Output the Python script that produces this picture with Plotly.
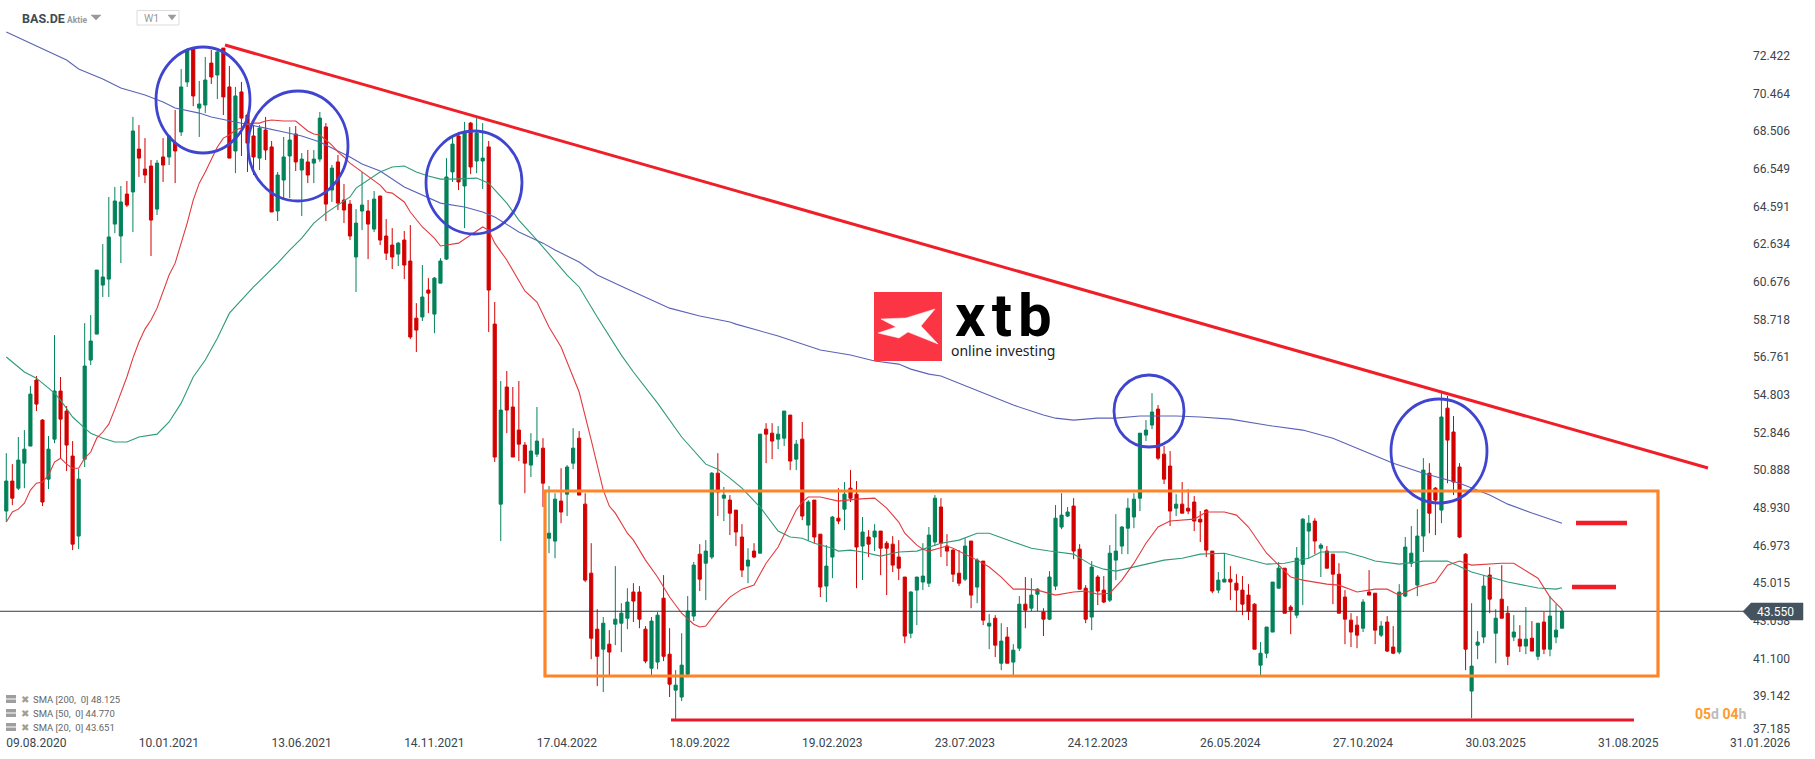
import pandas as pd
import plotly.graph_objects as go

FIRST_WEEK = "2020-08-09"
direction = "".join([
    "GRGGGRRGGR", "RRGGGGGGGG", "RGRRRGRGRG", "GRGGRGRRGR", "RRGRRGGGRG",
    "RGGRGRRRGG", "RGRRRGRRRG", "RGGGGRGRGG", "RRGRRRRGGR", "GGRGGRRRRG",
    "RGGGRRRGGR", "RGGGGRGGRG", "RRRGRGRRGG", "RGRGRRGGRG", "RRGRGRRRRR",
    "GGGGGRRRRG", "RGRGRGRGGR", "GGRGGGGRRR", "GRRGGGGGGG", "GRRRGRRRRR",
    "RGGRRRRRGG", "GGRRGGGRGR", "RRRRRGRRGR", "RGGGGGRRGR", "RRRGGGRGRR",
    "GRGRGRGGG",
])
high = [
    51.77,51.20,52.61,52.97,55.26,55.78,53.54,52.66,57.91,55.73,
    54.22,52.40,50.94,58.53,58.95,61.29,62.64,65.09,65.61,65.66,
    65.92,69.25,68.83,68.15,67.01,67.01,68.15,68.26,69.61,71.74,
    72.83,72.78,71.12,72.37,72.73,72.73,72.83,71.90,70.81,71.07,
    69.35,68.83,68.83,69.25,68.00,66.39,68.21,68.73,68.78,67.37,
    67.53,67.53,69.51,68.93,66.75,67.27,65.76,64.93,64.46,66.39,
    64.93,65.40,65.14,63.94,63.47,62.75,63.32,63.63,59.57,61.55,
    60.87,60.93,61.91,67.11,68.21,68.47,68.99,68.99,69.19,68.93,
    68.00,59.63,55.52,56.04,55.21,55.52,52.35,52.81,54.17,52.55,
    50.06,49.69,50.99,51.15,53.07,52.92,49.69,47.09,43.66,43.25,
    42.57,45.90,43.97,44.75,45.01,44.86,42.78,43.25,43.51,45.43,
    42.67,40.49,42.41,44.34,46.11,47.04,47.25,50.79,51.77,50.01,
    49.59,48.81,48.08,46.83,47.09,52.76,53.33,53.33,53.18,53.96,
    53.75,52.45,53.39,49.33,49.33,47.56,46.99,48.50,49.95,50.27,
    50.89,50.32,48.45,47.77,48.08,47.72,47.20,47.46,47.25,45.33,
    44.60,45.33,47.09,47.93,49.59,49.43,47.56,46.78,46.73,47.35,
    47.20,46.31,46.16,43.40,43.35,42.93,42.73,41.84,44.34,45.33,
    45.27,44.75,43.71,45.64,49.07,49.69,48.97,49.43,47.04,44.91,
    46.16,45.43,45.38,46.99,48.60,47.98,49.43,49.69,52.81,53.49,
    54.89,54.27,52.14,51.88,49.64,50.27,49.90,49.54,48.76,48.86,
    46.68,45.59,46.57,45.90,45.48,45.38,44.96,43.97,41.95,42.73,
    45.07,46.11,45.79,43.87,46.89,48.39,48.55,48.39,47.09,46.94,
    46.52,46.05,44.65,43.45,43.30,44.18,45.69,44.49,43.04,43.30,
    42.78,44.96,47.41,47.98,48.86,51.51,51.25,50.01,54.89,54.74,
    53.70,51.25,46.57,43.97,42.52,45.43,45.85,43.66,45.95,43.82,
    43.35,42.83,43.77,43.04,42.93,43.51,44.34,43.92,43.66,
]
body_top = [
    50.32,50.32,51.41,51.98,54.84,55.57,53.49,51.98,55.00,55.00,
    53.96,51.62,50.42,56.30,57.60,61.29,60.93,63.01,64.88,64.83,
    65.24,68.52,67.58,66.54,66.70,66.85,67.17,68.26,67.89,70.81,
    72.68,72.78,69.92,71.17,72.05,72.63,72.83,70.81,70.34,70.55,
    69.35,68.26,68.67,68.57,67.69,66.23,67.17,68.05,68.36,67.06,
    66.91,67.06,69.19,68.73,66.59,66.91,64.93,64.72,63.73,64.67,
    64.36,64.98,65.14,63.06,62.59,62.69,62.85,61.76,58.79,59.89,
    60.25,60.87,61.76,66.13,67.84,68.26,68.41,68.93,68.41,67.11,
    67.69,58.48,54.01,55.21,54.17,52.97,52.19,51.88,52.40,52.03,
    47.61,49.38,49.28,51.05,52.03,52.55,49.12,45.53,42.62,42.93,
    41.84,43.14,43.45,44.03,44.55,44.55,42.62,43.04,43.35,44.23,
    41.32,39.71,40.75,43.56,45.95,46.52,46.68,50.73,50.73,49.59,
    49.33,48.81,47.41,46.21,46.68,52.76,53.02,52.81,52.76,53.96,
    53.75,52.24,52.50,49.23,49.33,47.56,45.90,48.45,48.39,49.64,
    49.95,49.64,47.67,47.41,47.72,47.72,47.09,47.04,46.37,45.33,
    44.55,45.33,45.38,47.51,49.43,48.97,46.94,46.73,45.53,46.94,
    47.20,46.21,46.16,42.93,43.19,42.00,42.21,41.53,43.92,43.92,
    44.39,44.70,43.51,45.33,48.39,48.55,48.71,49.02,46.78,44.75,
    45.85,45.33,44.65,46.57,46.68,47.93,48.91,49.38,52.81,52.97,
    53.91,54.06,51.72,51.10,49.12,49.12,48.91,49.23,48.34,48.81,
    46.68,45.17,45.22,45.22,45.01,44.65,44.39,43.92,41.37,42.73,
    45.07,45.79,45.79,43.77,46.31,48.34,48.13,48.24,46.99,46.68,
    46.52,45.48,44.29,43.09,42.83,44.03,44.55,44.49,42.78,42.99,
    41.69,44.55,46.89,46.57,47.46,50.89,50.73,49.95,53.65,54.11,
    52.87,51.05,46.52,40.70,41.95,44.86,45.43,43.19,44.18,43.45,
    42.47,42.10,42.10,42.15,42.93,42.99,43.30,42.57,43.55,
]
body_bottom = [
    48.76,49.43,49.95,51.25,52.14,54.32,49.23,50.42,52.50,53.54,
    52.19,47.04,47.46,51.46,56.61,57.96,60.51,60.82,63.68,63.06,
    64.67,65.35,67.11,66.23,63.89,64.46,66.75,67.17,67.48,68.47,
    71.07,70.34,69.71,69.87,71.33,71.43,70.29,67.11,67.48,69.19,
    67.89,67.17,67.11,67.53,64.31,64.36,65.97,67.22,66.91,66.49,
    66.23,66.85,67.06,64.72,65.45,64.77,64.41,63.06,61.97,64.36,
    63.68,63.42,62.85,62.17,61.97,62.12,61.55,57.81,58.17,58.85,
    60.09,59.00,60.61,61.86,66.39,65.87,65.66,66.65,66.96,66.96,
    60.25,51.57,49.12,54.01,51.57,52.24,51.25,51.15,51.72,50.21,
    47.35,47.20,48.71,49.64,51.25,49.59,45.17,42.15,41.21,41.58,
    41.43,42.88,42.93,43.19,44.08,43.14,40.96,40.59,40.91,41.21,
    39.76,39.45,39.09,40.28,43.30,45.22,46.05,46.37,49.75,49.43,
    48.65,47.67,45.69,45.90,46.37,46.57,52.76,52.40,52.50,52.55,
    51.36,51.46,48.50,48.03,47.41,44.81,44.86,46.37,48.24,48.86,
    49.43,46.89,46.94,47.04,47.41,46.83,46.83,45.95,45.79,42.26,
    42.41,44.65,45.07,45.01,47.15,47.09,46.68,45.48,45.01,45.22,
    44.39,44.81,43.09,42.78,41.79,40.85,40.85,40.91,41.63,43.61,
    43.71,44.44,43.14,43.14,44.86,47.93,48.50,46.68,44.70,43.14,
    43.25,44.60,44.03,44.13,46.21,46.94,47.87,48.45,49.43,52.71,
    53.23,51.51,50.42,48.76,48.91,48.65,48.76,48.24,48.19,46.73,
    44.60,44.65,45.07,45.07,44.65,43.92,43.56,41.58,40.75,41.37,
    42.47,44.75,43.45,43.61,43.35,45.99,47.72,47.20,46.83,45.79,
    45.48,43.45,43.14,42.47,42.31,42.67,44.39,42.57,42.31,41.48,
    41.37,41.43,44.34,46.05,44.91,47.46,48.65,49.33,48.81,52.45,
    50.27,47.41,41.58,39.40,41.79,42.21,44.18,42.41,43.19,41.21,
    42.21,41.74,41.74,41.48,41.21,41.58,41.58,42.21,42.67,
]
low = [
    48.19,49.07,49.85,49.95,52.14,53.96,49.02,49.90,52.29,51.51,
    50.84,46.73,46.78,51.05,56.35,57.96,59.89,59.89,63.21,61.65,
    64.57,63.27,66.13,65.81,62.02,64.15,65.87,66.75,65.81,68.26,
    70.81,69.81,68.21,69.45,70.96,70.18,69.35,67.11,66.33,67.22,
    66.39,66.23,66.49,67.01,64.31,63.84,64.98,65.03,66.44,64.10,
    65.81,65.81,66.91,63.84,64.83,64.41,63.73,62.85,60.15,63.37,
    61.86,63.27,62.59,61.81,61.34,61.50,60.82,57.70,57.03,58.64,
    59.05,58.01,60.61,61.81,65.87,65.45,63.47,66.28,66.33,65.50,
    58.07,51.31,47.20,52.81,51.57,51.36,49.69,50.53,51.57,48.97,
    46.57,46.31,48.13,48.50,50.94,49.59,45.07,41.06,39.66,39.35,
    40.18,41.79,41.43,42.62,42.99,42.67,40.85,40.23,40.54,40.96,
    39.09,37.94,38.88,40.23,43.04,44.60,44.13,46.26,48.50,48.24,
    47.51,46.94,45.33,45.01,46.31,46.57,51.25,51.46,51.98,52.14,
    50.89,50.89,48.29,47.20,47.09,44.29,44.03,45.27,48.08,47.77,
    49.23,44.75,45.17,46.37,46.68,45.43,44.39,45.59,45.17,41.89,
    42.15,42.83,44.65,44.81,46.94,46.37,45.90,45.07,44.86,45.12,
    43.71,43.97,42.83,41.58,41.17,40.49,40.85,40.23,41.48,42.67,
    43.56,43.56,42.26,43.09,44.65,47.82,48.45,46.26,44.70,42.93,
    42.57,43.87,43.97,44.03,45.17,46.52,46.52,47.87,48.76,52.40,
    53.02,51.41,50.16,47.98,48.50,48.65,48.60,47.72,47.15,46.37,
    44.49,44.49,45.07,44.13,43.56,43.35,43.09,41.58,40.23,41.11,
    42.47,44.75,43.45,42.36,43.19,43.87,46.31,46.52,45.33,45.79,
    43.92,43.45,41.84,41.69,41.63,42.47,44.39,41.84,42.21,41.43,
    41.32,41.32,44.29,45.85,44.34,46.63,47.61,47.51,48.13,50.21,
    49.59,47.35,40.49,37.99,41.06,41.89,43.45,40.85,43.19,40.75,
    42.00,41.43,41.32,41.48,41.01,41.32,41.21,41.89,42.67,
]
sma20_week = [0,1,2,3,4,5,6,7,8,9,10,11,12,13,14,15,16,17,18,19,20,21,22,23,24,25,27,28,29,30,31,32,33,34,35,36,37,38,39,40,41,42,43,44,46,48,49,50,51,52,53,54,55,56,57,59,61,62,63,64,66,67,69,71,72,75,77,78,79,80,81,83,86,88,90,92,95,97,99,100,101,103,104,106,108,110,112,114,115,116,118,120,122,124,126,128,130,131,132,133,135,137,138,141,144,146,148,149,151,152,153,156,157,161,163,165,167,169,171,174,177,179,181,183,185,187,189,191,193,197,199,202,204,206,209,211,213,215,219,221,224,227,229,231,234,237,239,241,243,248,250,254,256,258]
sma20 = [48.19,48.71,48.86,49.17,49.85,50.21,50.27,50.63,51.31,51.51,51.20,50.99,50.99,51.51,51.83,52.55,52.87,53.28,54.06,54.89,55.73,56.71,57.55,58.22,58.69,59.31,61.03,61.65,62.69,63.73,64.93,65.81,66.39,67.01,67.69,68.15,68.31,68.57,68.67,68.88,68.93,68.93,69.04,69.09,69.04,69.04,68.78,68.52,68.36,68.31,68.05,67.79,67.43,67.17,66.85,66.39,65.97,65.71,65.35,65.29,64.83,64.31,63.53,62.95,62.54,62.69,63.11,63.32,63.53,63.37,62.69,61.81,60.20,59.63,58.33,57.29,54.95,52.45,49.85,49.02,48.65,47.61,47.25,46.21,45.33,44.29,43.45,42.88,42.73,42.78,43.61,44.29,44.70,44.91,46.05,46.89,48.19,48.81,49.23,49.49,49.49,49.33,49.28,49.38,49.43,48.91,48.19,47.61,46.99,46.78,46.68,46.94,46.83,46.21,45.85,45.33,44.70,44.70,44.65,44.39,44.55,44.60,44.44,44.49,45.17,46.05,47.09,47.93,48.24,48.34,48.71,48.71,48.55,47.93,46.57,45.95,45.33,45.17,44.96,44.91,44.55,44.70,44.70,44.39,44.81,45.07,45.95,46.16,45.95,46.05,46.05,45.27,44.29,43.65]
sma50_week = [0,3,5,8,9,11,13,14,16,18,20,22,25,27,29,31,33,35,37,39,41,45,47,49,51,53,55,57,58,60,62,64,66,68,70,72,74,78,80,83,85,88,93,95,98,102,104,108,112,116,118,120,122,125,128,130,132,134,137,138,140,142,145,148,151,155,158,161,163,167,170,173,177,180,182,184,187,192,195,198,202,205,209,212,216,218,222,225,227,231,235,239,243,249,254,257,258]
sma50 = [56.77,55.99,55.67,54.89,54.53,53.65,53.07,52.81,52.55,52.35,52.35,52.61,52.76,53.39,54.37,55.73,56.61,57.75,59.05,59.73,60.41,61.65,62.33,62.95,63.73,64.25,64.67,65.09,65.55,65.97,66.39,66.65,66.70,66.39,66.18,66.02,66.02,66.07,65.81,64.77,63.89,62.85,61.03,60.41,58.85,56.87,55.99,54.37,52.61,51.20,50.94,50.47,49.95,48.97,47.72,47.41,47.35,47.09,46.83,46.68,46.73,46.63,46.42,46.63,46.68,47.09,47.25,47.61,47.61,47.15,46.83,46.68,46.52,45.95,45.74,45.64,45.85,46.21,46.31,46.52,46.57,46.31,46.00,46.05,46.31,46.63,46.63,46.37,46.16,46.00,46.16,46.16,45.59,45.07,44.76,44.70,44.77]
sma200_week = [0,4,10,12,16,19,23,26,28,32,34,38,41,43,46,49,52,54,57,59,62,66,69,72,76,79,81,85,89,91,95,98,103,106,110,115,117,120,121,125,128,135,140,144,148,150,153,155,158,161,167,172,174,177,181,184,188,194,198,203,210,215,220,226,230,235,241,246,249,253,258]
sma200 = [73.67,73.09,72.21,71.74,71.22,70.75,70.39,70.03,69.71,69.45,69.25,68.99,68.78,68.67,68.47,68.26,67.95,67.63,67.17,66.80,66.44,65.61,65.19,64.77,64.57,64.31,64.05,63.27,62.69,62.33,61.71,61.03,60.30,59.89,59.31,58.90,58.79,58.59,58.48,58.12,57.86,57.13,56.87,56.56,56.40,56.14,55.88,55.78,55.41,55.00,54.27,53.75,53.59,53.49,53.59,53.59,53.70,53.70,53.65,53.54,53.18,52.97,52.55,51.77,51.25,50.73,50.21,49.59,49.12,48.66,48.13]
x_tick_dates = ["2020-08-09","2021-01-10","2021-06-13","2021-11-14","2022-04-17","2022-09-18","2023-02-19","2023-07-23","2023-12-24","2024-05-26","2024-10-27","2025-03-30","2025-08-31","2026-01-31"]
x_tick_labels = ["09.08.2020","10.01.2021","13.06.2021","14.11.2021","17.04.2022","18.09.2022","19.02.2023","23.07.2023","24.12.2023","26.05.2024","27.10.2024","30.03.2025","31.08.2025","31.01.2026"]
y_tick_labels = ["72.422","70.464","68.506","66.549","64.591","62.634","60.676","58.718","56.761","54.803","52.846","50.888","48.930","46.973","45.015","43.058","41.100","39.142","37.185"]
y_tick_values = [72.422,70.464,68.506,66.549,64.591,62.634,60.676,58.718,56.761,54.803,52.846,50.888,48.930,46.973,45.015,43.058,41.100,39.142,37.44]
last_price = 43.55
legend_rows = ["SMA [200,  0] 48.125", "SMA [50,  0] 44.770", "SMA [20,  0] 43.651"]

UP, DOWN = "#03825a", "#d30000"
W, H, PW, PH = 1815, 759, 1752, 734
t0 = pd.Timestamp(FIRST_WEEK)
dates = pd.date_range(t0, periods=len(high), freq="7D")
opens = [b if d == "G" else t for d, t, b in zip(direction, body_top, body_bottom)]
closes = [t if d == "G" else b for d, t, b in zip(direction, body_top, body_bottom)]
week = lambda idx: [t0 + pd.Timedelta(days=7 * i) for i in idx]

fig = go.Figure()
fig.add_trace(go.Candlestick(
    x=dates, open=opens, high=high, low=low, close=closes, showlegend=False, hoverinfo="skip",
    increasing=dict(line=dict(color=UP, width=1), fillcolor=UP),
    decreasing=dict(line=dict(color=DOWN, width=1), fillcolor=DOWN), whiskerwidth=0))
for idx, vals, col, nm in [(sma200_week, sma200, "#5a63b8", "SMA 200"), (sma50_week, sma50, "#2f9a78", "SMA 50"), (sma20_week, sma20, "#e23b3f", "SMA 20")]:
    fig.add_trace(go.Scatter(x=week(idx), y=vals, mode="lines", name=nm, showlegend=False, hoverinfo="skip", line=dict(color=col, width=1.1)))

px_ = lambda x: x / PW
py_ = lambda y: 1 - y / PH
def seg(x0, y0, x1, y1, color, width):
    return dict(type="line", xref="paper", yref="paper", x0=px_(x0), y0=py_(y0), x1=px_(x1), y1=py_(y1), line=dict(color=color, width=width))
def poly(pts, fill, line=None):
    path = "M " + " L ".join(f"{px_(a):.5f},{py_(b):.5f}" for a, b in pts) + " Z"
    return dict(type="path", xref="paper", yref="paper", path=path, fillcolor=fill, line=dict(color=line or fill, width=0.5))
def circ(x0, x1, y0, y1):
    return dict(type="circle", xref="paper", yref="paper", x0=px_(x0), x1=px_(x1), y0=py_(y1), y1=py_(y0), line=dict(color="#3f45cf", width=2.8))

shapes = [
    dict(type="line", xref="paper", yref="y", x0=0, x1=px_(1745), y0=last_price, y1=last_price, line=dict(color="#333d45", width=1)),
    dict(type="rect", xref="paper", yref="paper", x0=px_(545), x1=px_(1658), y0=py_(676), y1=py_(491), line=dict(color="#ff8427", width=3.2)),
    seg(225, 45, 1708, 468, "#f01e28", 3),
    seg(671, 720, 1634, 720, "#e8192c", 3),
    seg(1576, 523, 1627, 523, "#f01e28", 4.5),
    seg(1572, 587, 1616, 587, "#f01e28", 4.5),
    circ(156, 250, 47, 153), circ(248, 348, 91, 201), circ(426, 522, 131, 234),
    circ(1114, 1184, 375, 447), circ(1391, 1487, 399, 503),
    poly([(1743, 611.5), (1751, 603), (1803, 603), (1803, 620), (1751, 620)], "#44535e"),
    dict(type="rect", xref="paper", yref="paper", x0=px_(874), x1=px_(942), y0=py_(361), y1=py_(292), fillcolor="#fc3545", line=dict(color="#fc3545", width=0)),
    poly([(881, 319), (906, 318), (935, 309), (921, 326), (938, 344), (908, 332), (899, 338), (878, 333), (896, 327)], "#ffffff"),
    poly([(91, 15), (101, 15), (96, 20)], "#9a9a9a"),
    dict(type="rect", xref="paper", yref="paper", x0=px_(137), x1=px_(179), y0=py_(25), y1=py_(10.5), line=dict(color="#dcdcdc", width=1)),
    poly([(168, 15), (176, 15), (172, 20)], "#9a9a9a"),
]
for y in (699, 713, 727):
    shapes.append(dict(type="rect", xref="paper", yref="paper", x0=px_(6), x1=px_(16), y0=py_(y + 4), y1=py_(y - 4), fillcolor="#9e9e9e", line=dict(width=0)))
    shapes.append(seg(6, y, 16, y, "#ffffff", 1))

notes = []
def note(x, y, text, size, color, font="Roboto", anchor="left", bold=False, **kw):
    fnt = dict(family=font, size=size, color=color)
    fnt.update(kw)
    notes.append(dict(xref="paper", yref="paper", x=px_(x), y=py_(y), xanchor=anchor, yanchor="middle", showarrow=False, align="left",
                      text=f"<b>{text}</b>" if bold else text, font=fnt))
note(20, 19, "BAS.DE", 12.5, "#3e4a54", bold=True)
note(65, 19.5, "Aktie", 8.5, "#999999", bold=True)
note(142, 19, "W1", 10.5, "#9a9a9a")
note(1003, 316, "x\u200at\u200ab", 60, "#000000", anchor="center", bold=True)
note(1003, 350, "online investing", 14, "#222222", font="Noto Sans", anchor="center")
note(1755, 612, "43.550", 12, "#ffffff")
note(1693, 714, "<span style='color:#ff9a2e'>05</span>d <span style='color:#ff9a2e'>04</span>h", 14, "#bdbdbd", bold=True)
for y, row in zip((699, 713, 727), legend_rows):
    note(18.5, y, "✖", 10, "#9e9e9e", font="DejaVu Sans")
    note(31, y, row, 9.5, "#666666")

fig.update_layout(
    width=W, height=H, margin=dict(l=0, r=W - PW, t=0, b=H - PH), paper_bgcolor="white", plot_bgcolor="white",
    shapes=shapes, annotations=notes, hovermode=False, boxgap=0.25,
    font=dict(family="Roboto", size=12, color="#3a444c"),
    xaxis=dict(type="date", rangeslider=dict(visible=False), showgrid=False, zeroline=False, showline=False, ticks="",
               tickmode="array", tickvals=x_tick_dates, ticktext=x_tick_labels, ticklabelshift=30,
               range=[t0 - pd.Timedelta(days=7.3), t0 + pd.Timedelta(days=7 * 289.5)]),
    yaxis=dict(side="right", showgrid=False, zeroline=False, showline=False, ticks="", tickmode="array",
               tickvals=y_tick_values, ticktext=y_tick_labels, range=[37.17, 75.33]),
)
fig.write_html("out.html", config=dict(displayModeBar=False), post_script="document.body.style.margin='0';document.body.style.overflow='hidden';")
